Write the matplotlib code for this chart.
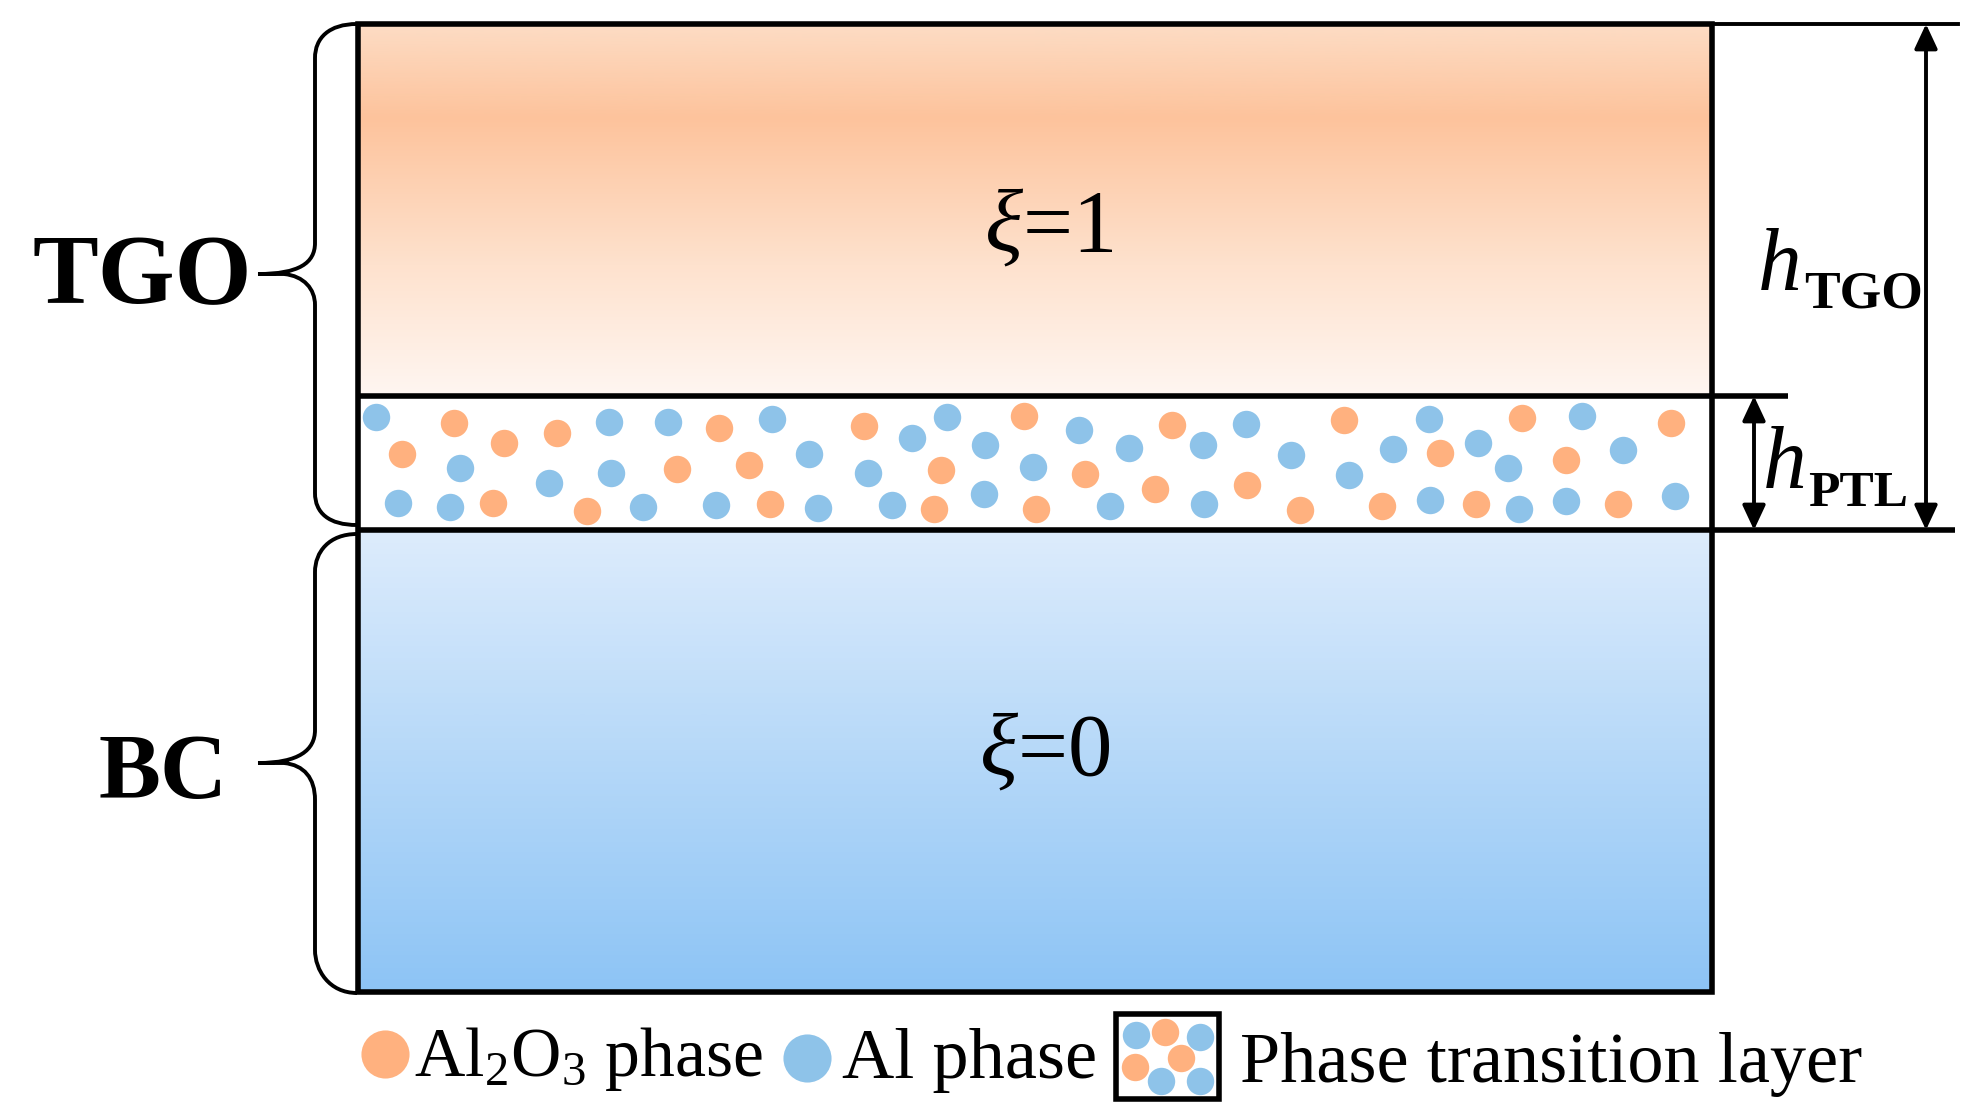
import matplotlib
matplotlib.use('Agg')
import matplotlib.pyplot as plt
import numpy as np
from matplotlib.colors import LinearSegmentedColormap
from matplotlib.patches import FancyArrowPatch, PathPatch, Rectangle
from matplotlib.path import Path

plt.rcParams['font.family'] = ['Liberation Serif', 'DejaVu Serif']
plt.rcParams['mathtext.fontset'] = 'custom'
plt.rcParams['mathtext.rm'] = 'Liberation Serif'
plt.rcParams['mathtext.it'] = 'Liberation Serif:italic'
plt.rcParams['mathtext.bf'] = 'Liberation Serif:bold'

# particle centres in the transition layer (image pixels)
al_x = [376, 609, 668, 772, 912, 947, 985, 809, 460, 611, 868, 549, 398, 450, 643, 716, 818, 892, 984,
        1079, 1129, 1203, 1246, 1291, 1393, 1429, 1478, 1582, 1623, 1033, 1349, 1508, 1110, 1204, 1430,
        1519, 1566, 1675]
al_y = [417, 422, 422, 419, 438, 417, 445, 454, 468, 473, 473, 483, 503, 507, 507, 505, 508, 505, 494,
        430, 448, 445, 424, 455, 449, 419, 443, 416, 450, 467, 475, 468, 506, 504, 500,
        509, 501, 496]
oxide_x = [454, 402, 504, 557, 719, 864, 677, 749, 941, 493, 587, 770, 934,
           1024, 1172, 1344, 1522, 1671, 1085, 1155, 1247, 1440, 1566, 1036, 1300, 1382, 1476, 1618]
oxide_y = [423, 454, 443, 433, 428, 426, 469, 465, 470, 503, 511, 504, 509,
           416, 425, 420, 418, 423, 474, 489, 485, 453, 460, 509, 510, 506, 504, 504]

# legend swatch particles
swatch_al_x = [1136, 1200, 1161, 1200]
swatch_al_y = [1035, 1037, 1081, 1081]
swatch_oxide_x = [1165, 1181, 1135]
swatch_oxide_y = [1032, 1058, 1067]

# layer colours, top to bottom
tgo_stops = [0.0, 0.25, 0.65, 1.0]
tgo_colors = ['#FDDCC4', '#FDC39C', '#FEE2CE', '#FFF6F1']
bc_stops = [0.0, 1.0]
bc_colors = ['#DDECFC', '#8DC4F5']

ORANGE = '#FFB17F'
BLUE = '#8EC3E9'

left, right = 358, 1712
top, ptl_top, ptl_bot, bottom = 24, 396, 530, 992

fig = plt.figure(figsize=(19.81, 11.19), dpi=100)
ax = fig.add_axes([0, 0, 1, 1])
ax.axis('off')

grad = np.linspace(0, 1, 400).reshape(-1, 1)
tgo_cmap = LinearSegmentedColormap.from_list('tgo', list(zip(tgo_stops, tgo_colors)))
bc_cmap = LinearSegmentedColormap.from_list('bc', list(zip(bc_stops, bc_colors)))
ax.imshow(grad, cmap=tgo_cmap, extent=[left, right, ptl_top, top], aspect='auto', zorder=1)
ax.imshow(grad, cmap=bc_cmap, extent=[left, right, bottom, ptl_bot], aspect='auto', zorder=1)
ax.set_xlim(0, 1981)
ax.set_ylim(1119, 0)

s_big = 390
ax.scatter(al_x, al_y, s=s_big, color=BLUE, linewidths=0, zorder=2)
ax.scatter(oxide_x, oxide_y, s=s_big, color=ORANGE, linewidths=0, zorder=2)

# box and horizontal extension lines
lw_box = 4.0
lw_thin = 2.8
ax.add_patch(Rectangle((left, top), right - left, bottom - top, fill=False, ec='black', lw=lw_box, zorder=4))
ax.plot([left, 1788], [ptl_top, ptl_top], color='black', lw=lw_box, zorder=4, solid_capstyle='butt')
ax.plot([left, 1955], [ptl_bot, ptl_bot], color='black', lw=lw_box, zorder=4, solid_capstyle='butt')
ax.plot([right, 1958], [top, top], color='black', lw=lw_thin, zorder=4)

# dimension arrows
for x, y0, y1 in [(1926, top, ptl_bot), (1754, ptl_top, ptl_bot)]:
    ax.add_patch(FancyArrowPatch((x, y0), (x, y1), arrowstyle='<|-|>,head_length=15,head_width=7',
                                 mutation_scale=1, shrinkA=0, shrinkB=0, color='black', lw=lw_thin, zorder=5))


def brace(y0, y1, y2, y3, y_tip, y4, y5):
    # left curly bracket, from the top end down to the bottom end
    verts = [(357, y0), (329, y0), (315, y1 - 20), (315, y1),
             (315, y2),
             (315, y2 + 20), (299, y_tip), (258, y_tip),
             (284, y_tip),
             (304, y_tip + 2), (315, y_tip + 15), (315, y3),
             (315, y4),
             (315, y4 + 20), (329, y5), (357, y5)]
    codes = [Path.MOVETO, Path.CURVE4, Path.CURVE4, Path.CURVE4,
             Path.LINETO,
             Path.CURVE4, Path.CURVE4, Path.CURVE4,
             Path.LINETO,
             Path.CURVE4, Path.CURVE4, Path.CURVE4,
             Path.LINETO,
             Path.CURVE4, Path.CURVE4, Path.CURVE4]
    ax.add_patch(PathPatch(Path(verts, codes), fill=False, ec='black', lw=lw_thin, zorder=3))


brace(24, 58, 243, 305, 274, 493, 525)
brace(534, 572, 730, 800, 763, 950, 993)

# labels
ax.text(33, 303, 'TGO', fontsize=71, fontweight='bold', va='baseline', zorder=6)
ax.text(99, 798, 'BC', fontsize=67, fontweight='bold', va='baseline', zorder=6)
ax.text(984, 251, r'$\mathit{\xi}$=1', fontsize=64, va='baseline', zorder=6)
ax.text(979, 775, r'$\mathit{\xi}$=0', fontsize=64, va='baseline', zorder=6)
ax.text(1758, 290, 'h', fontsize=63, style='italic', va='baseline', zorder=6)
ax.text(1804, 308, 'TGO', fontsize=38.5, fontweight='bold', va='baseline', zorder=6)
ax.text(1763, 488, 'h', fontsize=63, style='italic', va='baseline', zorder=6)
ax.text(1808, 506, 'PTL', fontsize=37, fontweight='bold', va='baseline', zorder=6)

# legend
ax.scatter([385], [1054], s=1200, color=ORANGE, linewidths=0, zorder=2)
ax.scatter([807], [1058], s=1200, color=BLUE, linewidths=0, zorder=2)
ax.text(414, 1076, r'Al$_{\mathrm{2}}$O$_{\mathrm{3}}$ phase', fontsize=50.2, va='baseline', zorder=6)
ax.text(842, 1078, 'Al phase', fontsize=52, va='baseline', zorder=6)
ax.add_patch(Rectangle((1116, 1014), 103, 85, fill=False, ec='black', lw=lw_box, zorder=4))
ax.scatter(swatch_al_x, swatch_al_y, s=s_big, color=BLUE, linewidths=0, zorder=2)
ax.scatter(swatch_oxide_x, swatch_oxide_y, s=s_big, color=ORANGE, linewidths=0, zorder=2)
ax.text(1240, 1082, 'Phase transition layer', fontsize=52, va='baseline', zorder=6)

plt.savefig('out.png', dpi=100)
